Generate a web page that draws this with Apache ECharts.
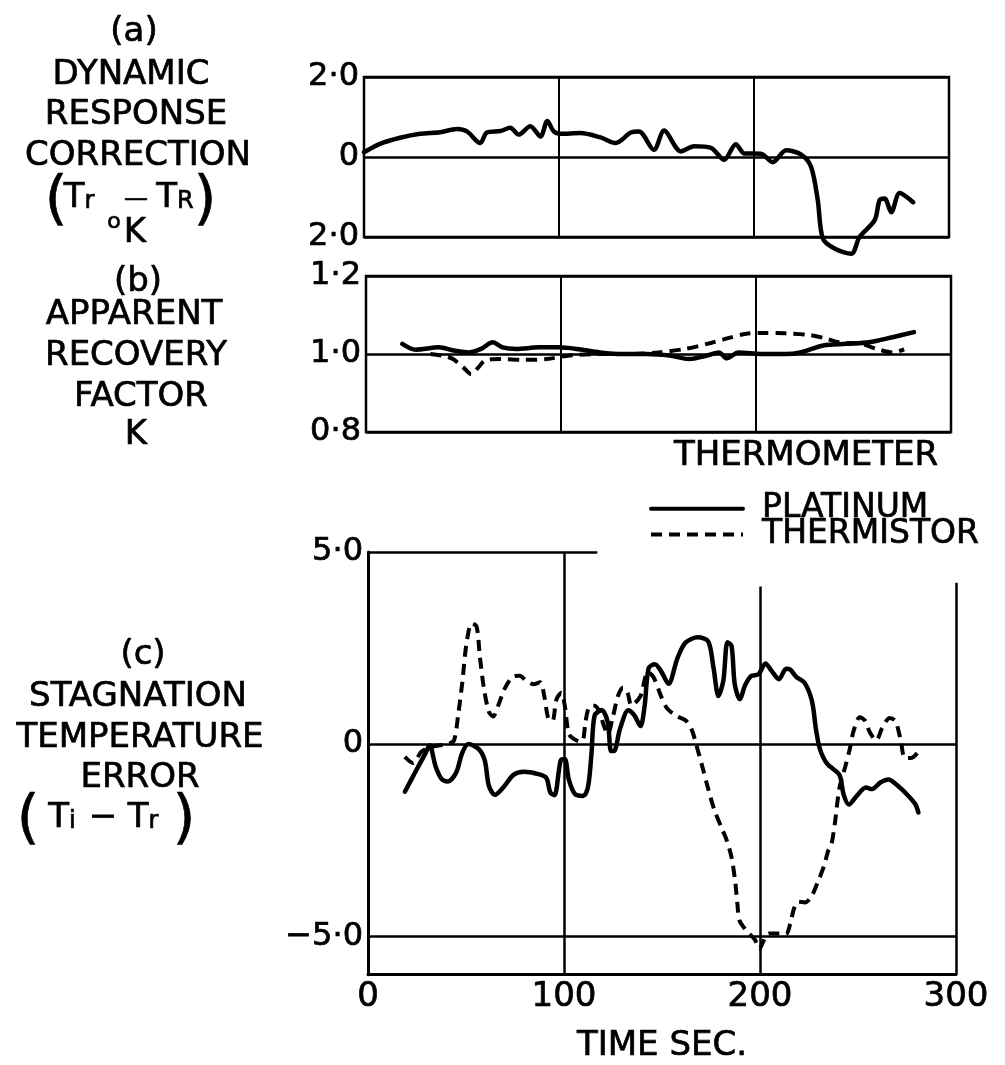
<!DOCTYPE html>
<html>
<head>
<meta charset="utf-8">
<script src="https://cdn.jsdelivr.net/npm/echarts@6/dist/echarts.min.js"></script>
<style>
  html, body { margin: 0; padding: 0; background: #fff; }
  #chart { width: 1005px; height: 1065px; }
</style>
</head>
<body>
<div id="chart"></div>
<script>
// Time axis (seconds), shared by the three panels
const timeTicks = [0, 100, 200, 300];
const timeTickText = ['0', '100', '200', '300'];

// (a) dynamic response correction (Tr - TR), K  -- platinum thermometer
const correctionPlatinum = [
  [0,0.12],[8.2,0.33],[18.5,0.48],[28.8,0.58],[39,0.62],[47.7,0.7],[52.8,0.64],[59.6,0.35],
  [63,0.61],[70,0.65],[75,0.73],[79.3,0.56],[85.3,0.77],[90.5,0.51],[94,0.9],[97.3,0.64],
  [100.8,0.58],[111,0.6],[121.3,0.49],[129,0.35],[136.8,0.61],[141,0.64],[148.7,0.18],
  [153.9,0.66],[162.5,0.14],[169.3,0.27],[177.9,0.23],[184.7,-0.07],[190.7,0.32],[195,0.09],
  [203.6,0.08],[209.6,-0.13],[216.5,0.17],[224.2,0.06],[229.3,-0.25],[232.7,-1.08],
  [235.3,-2.04],[241.3,-2.29],[249.9,-2.42],[254.1,-2.0],[261.9,-1.58],[264.4,-1.08],
  [267,-1.04],[270.4,-1.38],[274.7,-0.9],[281.6,-1.13]
];

// (b) apparent recovery factor K
const recoveryPlatinum = [
  [18.6,1.026],[25.5,1.011],[37.4,1.017],[45,1.009],[53,1.004],[59,1.013],[65,1.03],[70,1.017],
  [77,1.013],[88.7,1.017],[98.5,1.017],[108,1.013],[120,1.004],[132,1.0],[144,1.0],[155.7,0.996],
  [165.6,0.987],[175,0.996],[181,1.004],[185,0.989],[191,1.004],[203,1.0],[215,1.0],[222.7,1.004],
  [234.5,1.022],[246,1.026],[258,1.03],[270,1.043],[281,1.056]
];
const recoveryThermistor = [
  [33,1.0],[40,0.995],[44.6,0.987],[50,0.965],[54,0.948],[57.5,0.965],[61,0.983],[69,0.987],
  [80.8,0.985],[92.6,0.987],[104.4,0.996],[120,1.0],[135,1.0],[150,1.004],[163.6,1.013],
  [175,1.026],[183,1.037],[195,1.052],[203,1.054],[215,1.053],[226.8,1.049],[235.6,1.04],
  [242.5,1.03],[254,1.026],[262,1.013],[270,1.004],[276,1.012]
];

// (c) stagnation temperature error (Ti - Tr), K
const errorPlatinum = [
  [18.8,-1.24],[24,-0.74],[29.3,-0.24],[31.4,-0.03],[34.5,-0.58],[37.6,-0.91],[40.8,-0.97],
  [45,-0.74],[48,-0.24],[51.2,0.0],[56.5,-0.13],[59.6,-0.43],[61.7,-1.09],[64.8,-1.32],[69,-1.13],
  [74.2,-0.8],[79.5,-0.72],[86.8,-0.78],[91,-0.88],[93,-1.26],[95.1,-1.33],[98.3,-0.43],
  [100.4,-0.39],[102.5,-0.93],[105.6,-1.3],[109.8,-1.35],[112.3,-1.1],[114,-0.26],[115.6,0.74],
  [119.2,0.89],[122.3,0.57],[124,-0.18],[125.5,-0.18],[128.6,0.4],[132.8,0.88],[135.9,0.75],
  [139,0.47],[141.1,0.98],[143.2,1.98],[146.4,2.08],[149.5,1.9],[153.3,1.57],[157.9,2.24],
  [162,2.64],[168.3,2.78],[173.6,2.67],[176.3,1.98],[178.8,1.25],[181.3,1.65],[183.4,2.65],
  [185.5,2.55],[187.1,1.57],[189.7,1.17],[192.4,1.53],[195.5,1.77],[199.3,1.82],[202.8,2.1],
  [206,1.9],[209.7,1.69],[213.3,1.96],[215.4,1.94],[218.5,1.75],[222.7,1.6],[226.5,1.12],
  [228.6,0.37],[230.6,-0.13],[234.2,-0.51],[240.5,-0.8],[242.6,-1.3],[245.3,-1.57],[249.5,-1.34],
  [254,-1.13],[257.2,-1.17],[261.4,-1.0],[265.6,-0.92],[269.7,-1.06],[275,-1.31],[279.2,-1.56],
  [280.8,-1.78]
];
const errorThermistor = [
  [18.8,-0.33],[23,-0.49],[27.2,-0.2],[31.4,-0.09],[36.6,-0.03],[40.8,0],[43.9,0.1],[46,0.76],
  [48.1,1.6],[50.2,2.6],[52.9,3.14],[55.4,3.06],[57.1,2.26],[59.2,1.43],[61.7,0.84],[63.8,0.72],
  [66.5,1.01],[69.6,1.43],[73.8,1.75],[77.4,1.78],[80.5,1.66],[84.3,1.56],[87.8,1.61],[89.9,1.26],
  [92,0.67],[94.1,0.61],[96.2,1.17],[98.7,1.34],[100.4,1.0],[102.5,0.26],[105.2,0.13],[108.1,0.07],
  [109.8,0.13],[111,0.59],[112.9,0.97],[115.6,1.0],[118.1,0.84],[120.2,0.5],[122.3,0.26],
  [124.8,0.68],[127.6,1.26],[130.1,1.47],[132.4,1.34],[134.4,1.01],[139,1.25],[142.8,1.88],
  [145.7,1.74],[149.5,1.25],[152.6,0.93],[157.5,0.73],[162,0.62],[165.2,0.37],[167.9,-0.09],
  [170.8,-0.63],[173.6,-1.17],[176.7,-1.71],[180.9,-2.24],[183,-2.5],[185.5,-2.95],[187.4,-3.6],
  [188.5,-4.18],[189.5,-4.59],[192.8,-4.84],[196,-5.01],[197.5,-5.1],[199.7,-5.33],[201.8,-5.12],
  [204.6,-4.93],[208.9,-4.93],[213.2,-4.95],[215.4,-4.68],[217.5,-4.26],[219.7,-4.1],[222.9,-4.12],
  [226.1,-3.98],[229.4,-3.6],[232.6,-3.18],[234.8,-2.77],[236.5,-2.6],[238.4,-1.98],[240.5,-1.15],
  [243.6,-0.57],[245.7,-0.15],[247.8,0.35],[250.9,0.7],[253.6,0.61],[256.1,0.3],[259.3,0.1],
  [262.4,0.43],[266.2,0.68],[269.1,0.6],[271.8,0.1],[273.9,-0.36],[277,-0.36],[280.8,-0.2]
];

// Value-axis tick labels for each panel
const yTickValuesA = [2, 0, -2];
const yTickTextA = ['2·0', '0', '2·0'];
const yTickValuesB = [1.2, 1.0, 0.8];
const yTickTextB = ['1·2', '1·0', '0·8'];
const yTickValuesC = [5, 0, -5];
const yTickTextC = ['5·0', '0', '−5·0'];

const seriesNames = ['PLATINUM', 'THERMISTOR'];

const FONT = '"DejaVu Sans", sans-serif';
const INK = '#000';
const INK_EDGE = 0.7;   // slight outline so the lettering reads as pen-drawn

function pickLabel(values, texts) {
  return function (v) {
    const i = values.findIndex(function (x) { return Math.abs(x - v) < 1e-6; });
    return i >= 0 ? texts[i] : '';
  };
}

const chart = echarts.init(document.getElementById('chart'), null, { renderer: 'canvas' });

const frameLine = { color: INK, width: 2.5, type: 'solid' };

const labelInk = {
  color: INK, fontFamily: FONT, textBorderColor: INK, textBorderWidth: INK_EDGE
};

function boxedX(gridIndex) {
  return {
    type: 'value', gridIndex: gridIndex, min: 0, max: 300, interval: 100,
    axisLine: { show: false }, axisTick: { show: false }, axisLabel: { show: false },
    splitLine: { show: true, lineStyle: { color: INK, width: 2 } }
  };
}
function boxedY(gridIndex, min, max, interval, values, texts) {
  return {
    type: 'value', gridIndex: gridIndex, min: min, max: max, interval: interval,
    axisLine: { show: false }, axisTick: { show: false },
    axisLabel: Object.assign({
      show: true, margin: 5, fontSize: 32,
      formatter: pickLabel(values, texts)
    }, labelInk),
    splitLine: { show: true, lineStyle: { color: INK, width: 2.5 } }
  };
}

const solidStyle = { color: INK, width: 4.5, type: 'solid', cap: 'round', join: 'round' };
const dashStyle = { color: INK, width: 4, type: [11, 7], cap: 'butt', join: 'round' };
const markInk = { color: INK, opacity: 0 };

// Partial frame of panel (c): the legend sits in its upper right corner
const frameC = [
  [[0, 0], [300, 0]],
  [[0, -5], [300, -5]],
  [[0, 5], [117, 5]],
  [[100, -6], [100, 5]],
  [[200, -6], [200, 4.1]],
  [[300, -6], [300, 4.2]]
];

function texts(list) {
  return list.map(function (t) {
    return {
      type: 'text', x: t[1], y: t[2], silent: true,
      style: {
        text: t[0], fill: INK, stroke: INK, lineWidth: INK_EDGE,
        font: (t[3] || 34) + 'px ' + FONT,
        textAlign: 'center', textVerticalAlign: 'middle',
        align: 'center', verticalAlign: 'middle',
        rich: {
          a: { fontSize: 34, fontFamily: FONT, fill: INK, stroke: INK, lineWidth: INK_EDGE },
          s: { fontSize: 24, fontFamily: FONT, fill: INK, stroke: INK, lineWidth: INK_EDGE, padding: [8, 0, 0, 0] }
        }
      }
    };
  });
}

const option = {
  backgroundColor: '#fff',
  animation: false,
  color: [INK, INK],
  grid: [
    { left: 364, top: 77, width: 585, height: 160, show: true, borderColor: INK, borderWidth: 2.5, backgroundColor: 'transparent' },
    { left: 366, top: 276, width: 585, height: 156, show: true, borderColor: INK, borderWidth: 2.5, backgroundColor: 'transparent' },
    { left: 368, top: 552, width: 588, height: 440 }
  ],
  xAxis: [
    boxedX(0),
    boxedX(1),
    {
      type: 'value', gridIndex: 2, min: 0, max: 300, interval: 100,
      axisLine: { show: true, onZero: false, lineStyle: { color: INK, width: 3 } },
      axisTick: { show: false },
      axisLabel: Object.assign({
        show: true, margin: 6, fontSize: 34,
        formatter: pickLabel(timeTicks, timeTickText)
      }, labelInk),
      splitLine: { show: false },
      name: 'TIME SEC.', nameLocation: 'middle', nameGap: 55,
      nameTextStyle: Object.assign({ fontSize: 34 }, labelInk)
    }
  ],
  yAxis: [
    boxedY(0, -2, 2, 2, yTickValuesA, yTickTextA),
    boxedY(1, 0.8, 1.2, 0.2, yTickValuesB, yTickTextB),
    {
      type: 'value', gridIndex: 2, min: -6, max: 5, interval: 1,
      axisLine: { show: true, onZero: false, lineStyle: { color: INK, width: 3 } },
      axisTick: { show: false },
      axisLabel: Object.assign({
        show: true, margin: 5, fontSize: 32,
        formatter: pickLabel(yTickValuesC, yTickTextC)
      }, labelInk),
      splitLine: { show: false }
    }
  ],
  legend: {
    show: true, orient: 'vertical', left: 644, top: 487,
    itemWidth: 92, itemHeight: 14, itemGap: -8, selectedMode: false,
    data: seriesNames,
    itemStyle: { opacity: 0 },
    lineStyle: { width: 4 },
    textStyle: Object.assign({ fontSize: 33, padding: [0, 0, 0, 14] }, labelInk)
  },
  series: [
    {
      name: seriesNames[0], type: 'line', xAxisIndex: 0, yAxisIndex: 0,
      data: correctionPlatinum, smooth: 0.3, symbol: 'none', clip: false,
      itemStyle: markInk, lineStyle: solidStyle, z: 5
    },
    {
      name: seriesNames[0], type: 'line', xAxisIndex: 1, yAxisIndex: 1,
      data: recoveryPlatinum, smooth: 0.3, symbol: 'none', clip: false,
      itemStyle: markInk, lineStyle: solidStyle, z: 5
    },
    {
      name: seriesNames[1], type: 'line', xAxisIndex: 1, yAxisIndex: 1,
      data: recoveryThermistor, smooth: 0.3, symbol: 'none', clip: false,
      itemStyle: markInk, lineStyle: dashStyle, z: 5
    },
    {
      name: seriesNames[0], type: 'line', xAxisIndex: 2, yAxisIndex: 2,
      data: errorPlatinum, smooth: 0.3, symbol: 'none', clip: false,
      itemStyle: markInk, lineStyle: solidStyle, z: 5,
      markLine: {
        silent: true, symbol: ['none', 'none'], animation: false,
        label: { show: false }, lineStyle: frameLine,
        emphasis: { disabled: true },
        data: frameC.map(function (seg) {
          return [{ coord: seg[0] }, { coord: seg[1] }];
        })
      }
    },
    {
      name: seriesNames[1], type: 'line', xAxisIndex: 2, yAxisIndex: 2,
      data: errorThermistor, smooth: 0.3, symbol: 'none', clip: false,
      itemStyle: markInk, lineStyle: dashStyle, z: 5
    }
  ],
  graphic: texts([
    // panel (a)
    ['(a)', 134, 32],
    ['DYNAMIC', 131, 75],
    ['RESPONSE', 136, 115],
    ['CORRECTION', 138, 156],
    ['(', 56, 203, 58],
    ['{a|T}{s|r}', 79, 198],
    ['—', 136, 200, 24],
    ['{a|T}{s|R}', 175, 198],
    [')', 205, 203, 58],
    ['o', 114, 222, 22],
    ['K', 135, 233],
    // panel (b)
    ['(b)', 138, 282],
    ['APPARENT', 134, 315],
    ['RECOVERY', 136, 356],
    ['FACTOR', 141, 397],
    ['K', 136, 435],
    // legend heading
    ['THERMOMETER', 806, 456],
    // panel (c)
    ['(c)', 143, 655],
    ['STAGNATION', 138, 697],
    ['TEMPERATURE', 140, 738],
    ['ERROR', 140, 778],
    ['(', 28, 822, 58],
    ['{a|T}{s|i}', 62, 818],
    ['−', 103, 818],
    ['{a|T}{s|r}', 143, 818],
    [')', 184, 822, 58]
  ])
};

chart.setOption(option);
</script>
</body>
</html>
